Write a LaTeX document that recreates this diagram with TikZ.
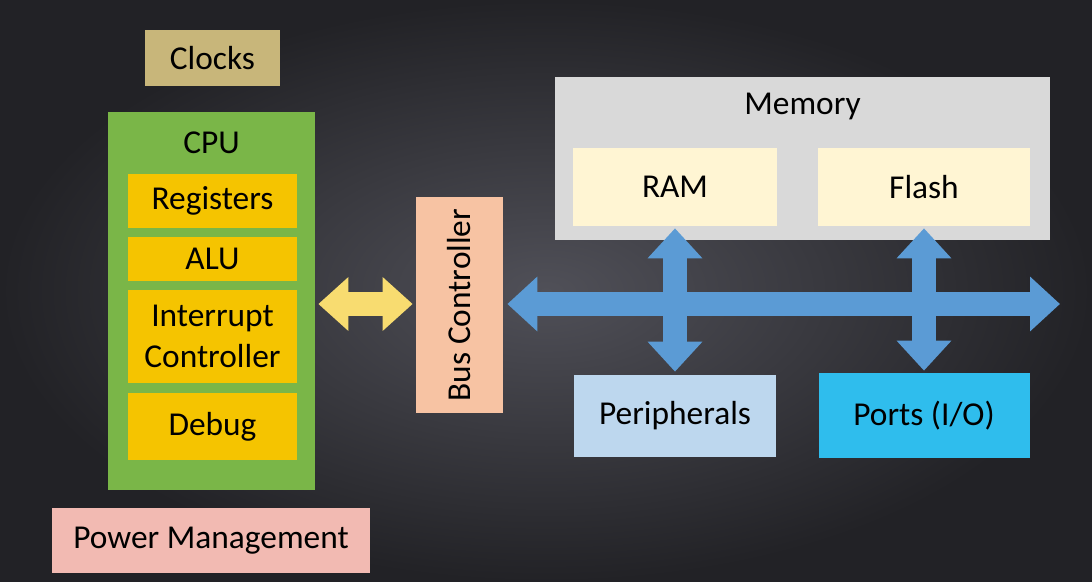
\documentclass[tikz,border=0pt]{standalone}
\usepackage{fontspec}
\setmainfont{Carlito}
\usepackage{tikz}
\usetikzlibrary{positioning, arrows.meta, calc}
\definecolor{bgmid}{HTML}{505058}
\definecolor{bgedge}{HTML}{222226}
\definecolor{clockcol}{HTML}{C8B67A}
\definecolor{cpucol}{HTML}{7AB648}
\definecolor{unitcol}{HTML}{F5C400}
\definecolor{powercol}{HTML}{F2BAB2}
\definecolor{buscol}{HTML}{F7C3A3}
\definecolor{memcol}{HTML}{D9D9D9}
\definecolor{cellcol}{HTML}{FFF5D3}
\definecolor{pericol}{HTML}{BDD7EE}
\definecolor{portcol}{HTML}{2FBDED}
\definecolor{busarrow}{HTML}{5B9BD5}
\definecolor{cpuarrow}{HTML}{F8DC70}
\tikzset{
  box/.style={draw=none, align=center, inner sep=0pt, font=\fontsize{19}{23}\selectfont},
  unit/.style={box, fill=unitcol, minimum width=3.38cm},
  bus/.style={line width=0.48cm, busarrow, {Triangle[length=0.6cm,width=1.06cm]}-{Triangle[length=0.6cm,width=1.06cm]}},
}
\begin{document}
\begin{tikzpicture}[scale=1, >=stealth]

		% Draw background
		\shade[inner color=bgmid, outer color=bgedge] (0,0) rectangle (21.84,-11.64);
		\useasboundingbox (0,0) rectangle (21.84,-11.64);

		% CPU side
		\node[box, fill=clockcol, minimum width=2.7cm, minimum height=1.12cm] (clocks) at (4.25,-1.16) {Clocks};
		\node[box, fill=cpucol, minimum width=4.14cm, minimum height=7.56cm] (cpu) at (4.23,-6.02) {};
		\node[box] (cputitle) at (4.23,-2.86) {CPU};
		\node[unit, minimum height=1.08cm] (registers) at (4.25,-4.02) {Registers};
		\node[unit, minimum height=0.88cm] (alu) at (4.25,-5.18) {ALU};
		\node[unit, minimum height=1.86cm] (interrupt) at (4.25,-6.73) {Interrupt\\Controller};
		\node[unit, minimum height=1.34cm] (debug) at (4.25,-8.53) {Debug};
		\node[box, fill=powercol, minimum width=6.36cm, minimum height=1.3cm] (power) at (4.22,-10.81) {Power Management};

		% Bus controller
		\node[box, fill=buscol, minimum width=4.32cm, minimum height=1.74cm, rotate=90] (busctrl) at (9.19,-6.1) {Bus Controller};

		% Memory
		\node[box, fill=memcol, minimum width=9.9cm, minimum height=3.26cm] (memory) at (16.05,-3.17) {};
		\node[box] (memtitle) at (16.05,-2.12) {Memory};
		\node[box, fill=cellcol, minimum width=4.08cm, minimum height=1.56cm] (ram) at (13.5,-3.74) {RAM};
		\node[box, fill=cellcol, minimum width=4.24cm, minimum height=1.56cm] (flash) at (18.48,-3.74) {Flash};

		% Peripherals and ports
		\node[box, fill=pericol, minimum width=4.04cm, minimum height=1.64cm] (peripherals) at (13.5,-8.32) {Peripherals};
		\node[box, fill=portcol, minimum width=4.22cm, minimum height=1.7cm] (ports) at (18.48,-8.31) {Ports (I/O)};

		% Arrows
		\coordinate (busend) at (21.2,-6.08);
		\draw[line width=0.48cm, cpuarrow, {Triangle[length=0.6cm,width=1.04cm]}-{Triangle[length=0.6cm,width=1.04cm]}, shorten <=0.06cm, shorten >=0.06cm] (cpu.east |- 0,-6.08) -- (busctrl.north |- 0,-6.08);
		\draw[bus, shorten <=0.08cm] (busctrl.south |- 0,-6.08) -- (busend);
		\draw[bus, shorten <=0.04cm, shorten >=0.06cm] (ram.south) -- (peripherals.north);
		\draw[bus, shorten <=0.04cm, shorten >=0.04cm] (flash.south) -- (ports.north);

\end{tikzpicture}
\end{document}
